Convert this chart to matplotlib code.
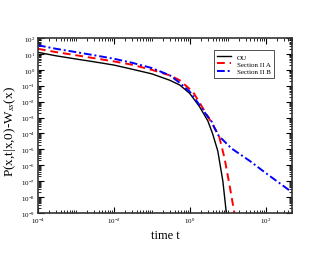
import matplotlib
matplotlib.use('Agg')
import matplotlib.pyplot as plt
from matplotlib.ticker import FixedLocator, LogLocator, LogFormatterMathtext, NullFormatter

plt.rcParams['font.family'] = ['Liberation Serif', 'DejaVu Serif']
plt.rcParams['mathtext.fontset'] = 'stix'

# values
t_ou = [1e-4, 3e-4, 1e-3, 3e-3, 1e-2, 3e-2, 0.1, 0.3, 0.55, 1.0, 1.8, 3.0, 4.0, 5.5, 7.5, 9.25, 10.0]
p_ou = [12.6, 7.6, 4.8, 3.2, 2.0, 1.1, 0.56, 0.22, 0.11, 0.033, 5.0e-3, 6.3e-4, 1.0e-4, 8.0e-6, 1.0e-7, 1.0e-9, 1.6e-10]

t_a = [1e-4, 3e-4, 1e-3, 3e-3, 1e-2, 3e-2, 0.1, 0.3, 0.55, 1.23, 2.24, 4.07, 5.9, 8.3, 11.2, 15.1, 16.5]
p_a = [21.0, 13.0, 8.3, 5.4, 3.4, 2.1, 1.0, 0.45, 0.22, 0.04, 3.8e-3, 3.5e-4, 7.4e-5, 2.8e-6, 5.9e-8, 1.0e-9, 3.0e-10]

t_b = [1e-4, 3e-4, 1e-3, 3e-3, 1e-2, 3e-2, 0.1, 0.3, 0.55, 1.0, 1.8, 2.8, 3.8, 4.6, 5.75, 12.6, 38.0, 100.0, 513.0]
p_b = [35.0, 21.0, 13.0, 8.3, 5.0, 2.8, 1.3, 0.45, 0.15, 0.043, 6.3e-3, 1.4e-3, 5.6e-4, 2.0e-4, 7.4e-5, 1.15e-5, 1.9e-6, 3.3e-7, 1.9e-8]

x_major = [1e-4, 1e-2, 1e0, 1e2]
y_major = [1e-9, 1e-8, 1e-7, 1e-6, 1e-5, 1e-4, 1e-3, 1e-2, 1e-1, 1e0, 1e1, 1e2]

fig = plt.figure(figsize=(3.3, 2.55), dpi=100)
ax = fig.add_axes([0.115, 0.161, 0.770, 0.686])

ax.plot(t_ou, p_ou, color='black', lw=1.0, label='OU')
ax.plot(t_a, p_a, color='red', lw=1.4, dashes=(4, 2.5), label='Section II A')
ax.plot(t_b, p_b, color='blue', lw=1.4, dashes=(4, 1.5, 1, 1.5), label='Section II B')

ax.set_xscale('log')
ax.set_yscale('log')
ax.set_xlim(1e-4, 500)
ax.set_ylim(1e-9, 1e2)

ax.xaxis.set_major_locator(FixedLocator(x_major))
ax.xaxis.set_minor_locator(LogLocator(base=10, subs=[1, 2, 3, 4, 5, 6, 7, 8, 9], numticks=30))
ax.xaxis.set_major_formatter(LogFormatterMathtext())
ax.xaxis.set_minor_formatter(NullFormatter())
ax.yaxis.set_major_locator(FixedLocator(y_major))
ax.yaxis.set_minor_locator(LogLocator(base=10, subs=[2, 3, 4, 5, 6, 7, 8, 9], numticks=30))
ax.yaxis.set_major_formatter(LogFormatterMathtext())
ax.yaxis.set_minor_formatter(NullFormatter())

ax.tick_params(which='both', direction='in', top=True, right=True, labelsize=5, pad=2)
ax.tick_params(which='major', length=4, width=0.8)
ax.tick_params(which='minor', length=2, width=0.6)
for s in ax.spines.values():
    s.set_linewidth(1.2)
    s.set_color('#333333')

ax.set_xlabel('time t', fontsize=9, labelpad=3)
ax.set_ylabel(r'P(x,t|x,0)-W$_{ss}$(x)', fontsize=9.5)
ax.yaxis.set_label_coords(-0.078, 0.47)

leg = ax.legend(loc='upper right', bbox_to_anchor=(0.93, 0.93), fontsize=5, frameon=True,
                fancybox=False, edgecolor='black', handlelength=2.0, borderpad=0.5,
                labelspacing=0.2, handletextpad=0.8, borderaxespad=0)
leg.get_frame().set_linewidth(0.6)

fig.savefig('out.png', dpi=100)
